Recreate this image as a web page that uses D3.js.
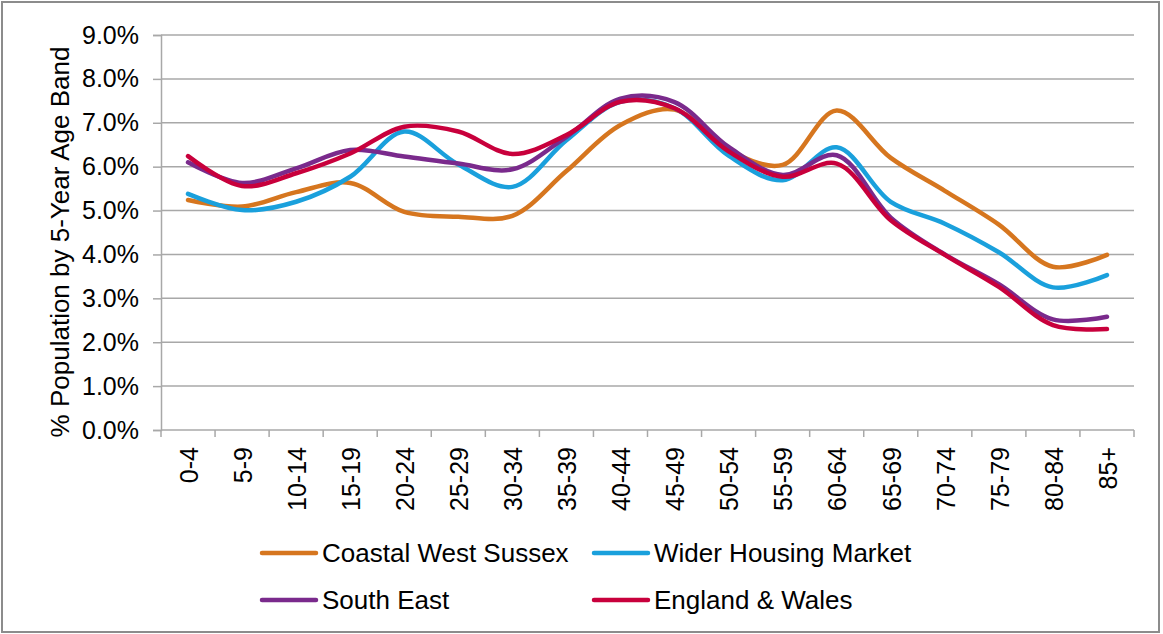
<!DOCTYPE html>
<html>
<head>
<meta charset="utf-8">
<script src="https://cdn.jsdelivr.net/npm/d3@7"></script>
<style>
  body { margin: 0; background: #fff; }
  text { font-family: "Liberation Sans", Arial, sans-serif; fill: #000; }
</style>
</head>
<body>
<script>
const width = 1163;
const height = 634;

// age bands and % population per band
const ageBands = ["0-4","5-9","10-14","15-19","20-24","25-29","30-34","35-39","40-44","45-49","50-54","55-59","60-64","65-69","70-74","75-79","80-84","85+"];
const coastalWestSussex = [5.24,5.09,5.42,5.63,4.97,4.86,4.88,5.9,6.95,7.3,6.38,6.04,7.28,6.2,5.45,4.68,3.72,3.99];
const widerHousingMarket = [5.38,5.01,5.2,5.77,6.8,6.05,5.54,6.6,7.48,7.33,6.25,5.69,6.44,5.2,4.7,4.05,3.25,3.53];
const southEast = [6.1,5.63,5.96,6.38,6.23,6.07,5.94,6.68,7.55,7.47,6.45,5.81,6.26,4.84,4.0,3.32,2.52,2.58];
const englandWales = [6.24,5.56,5.85,6.3,6.91,6.8,6.29,6.72,7.48,7.33,6.35,5.77,6.07,4.78,3.99,3.26,2.39,2.3];
const yTicks = [0,1,2,3,4,5,6,7,8,9];

const seriesNames = ["Coastal West Sussex","Wider Housing Market","South East","England & Wales"];
const seriesColors = ["#d6761f","#1aa0dc","#7a2a8c","#c8003c"];
const seriesValues = [coastalWestSussex, widerHousingMarket, southEast, englandWales];

const plotLeft = 161, plotRight = 1134, plotTop = 35, plotBottom = 430;
const gridColor = "#a8a8a8";

const svg = d3.select('body')
  .append('svg')
  .attr('width', width)
  .attr('height', height);

// outer frame
svg.append('rect')
  .attr('x', 2).attr('y', 2)
  .attr('width', 1157).attr('height', 630)
  .attr('fill', 'none')
  .attr('stroke', '#8c8c8c')
  .attr('stroke-width', 2);

const x = d3.scaleBand().domain(ageBands).range([plotLeft, plotRight]);
const y = d3.scaleLinear().domain([0, 9]).range([plotBottom, plotTop]);

// gridlines
svg.append('g')
  .selectAll('line')
  .data(yTicks.slice(1))
  .enter()
  .append('line')
  .attr('x1', plotLeft).attr('x2', plotRight)
  .attr('y1', d => y(d)).attr('y2', d => y(d))
  .attr('stroke', gridColor)
  .attr('stroke-width', 1.5);

// y axis
const yAxis = svg.append('g')
  .attr('transform', `translate(${plotLeft},0)`)
  .call(d3.axisLeft(y).tickValues(yTicks).tickSize(8).tickPadding(14).tickFormat(d => d.toFixed(1) + '%'));
yAxis.select('.domain').attr('stroke', gridColor).attr('stroke-width', 1.5);
yAxis.selectAll('.tick line').attr('stroke', gridColor).attr('stroke-width', 1.5);
yAxis.selectAll('text').attr('font-size', 25).attr('fill', '#000')
  .attr('font-family', '"Liberation Sans", Arial, sans-serif');

// x axis: ticks at band edges
const xAxisG = svg.append('g');
xAxisG.append('line')
  .attr('x1', plotLeft).attr('x2', plotRight)
  .attr('y1', plotBottom).attr('y2', plotBottom)
  .attr('stroke', gridColor).attr('stroke-width', 1.5);
xAxisG.selectAll('line.tk')
  .data(ageBands.concat(['end']))
  .enter()
  .append('line')
  .attr('class', 'tk')
  .attr('x1', (d, i) => plotLeft + i * x.step())
  .attr('x2', (d, i) => plotLeft + i * x.step())
  .attr('y1', plotBottom).attr('y2', plotBottom + 7)
  .attr('stroke', gridColor).attr('stroke-width', 1.5);
xAxisG.selectAll('text')
  .data(ageBands)
  .enter()
  .append('text')
  .attr('transform', d => `translate(${x(d) + x.bandwidth() / 2 + 1},${plotBottom + 17}) rotate(-90)`)
  .attr('text-anchor', 'end')
  .attr('dy', '0.35em')
  .attr('font-size', 25)
  .text(d => d);

// y axis title
svg.append('text')
  .attr('transform', `translate(60,242) rotate(-90)`)
  .attr('text-anchor', 'middle')
  .attr('dy', '0.35em')
  .attr('font-size', 26)
  .text('% Population by 5-Year Age Band');

// lines
const line = d3.line()
  .x((d, i) => x(ageBands[i]) + x.bandwidth() / 2)
  .y(d => y(d))
  .curve(d3.curveCatmullRom.alpha(0.5));

svg.append('g')
  .selectAll('path')
  .data(seriesValues)
  .enter()
  .append('path')
  .attr('d', d => line(d))
  .attr('fill', 'none')
  .attr('stroke', (d, i) => seriesColors[i])
  .attr('stroke-width', 4.5)
  .attr('stroke-linecap', 'round')
  .attr('stroke-linejoin', 'round');

// legend
const legendPos = [[262, 553], [594, 553], [262, 600], [594, 600]];
const legend = svg.append('g')
  .selectAll('g')
  .data(seriesNames)
  .enter()
  .append('g')
  .attr('transform', (d, i) => `translate(${legendPos[i][0]},${legendPos[i][1]})`);
legend.append('line')
  .attr('x1', 0).attr('x2', 54)
  .attr('y1', 0).attr('y2', 0)
  .attr('stroke', (d, i) => seriesColors[i])
  .attr('stroke-width', 4.5)
  .attr('stroke-linecap', 'round');
legend.append('text')
  .attr('x', 60)
  .attr('dy', '0.35em')
  .attr('font-size', 26)
  .text(d => d);
</script>
</body>
</html>
